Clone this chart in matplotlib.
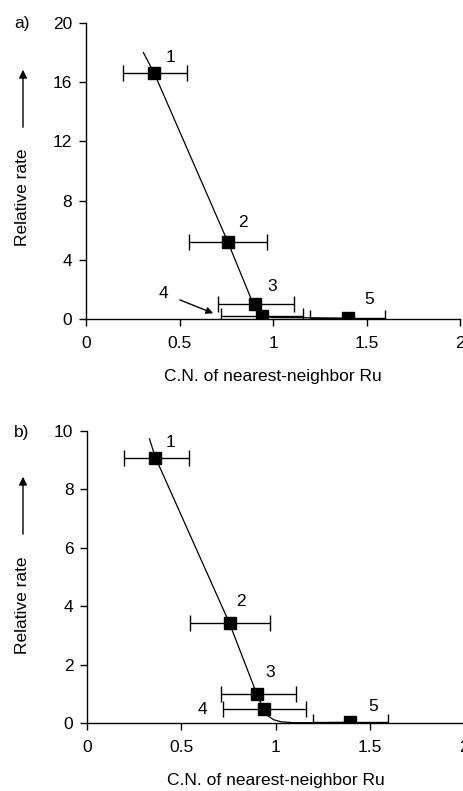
import numpy as np
from matplotlib import pyplot as plt

plt.rcParams['font.family'] = ['Liberation Sans', 'DejaVu Sans']
plt.rcParams['font.size'] = 12

# panel a) data
cn_a = [0.365, 0.758, 0.904, 0.94, 1.40]
rate_a = [16.6, 5.22, 1.01, 0.2, 0.05]
err_lo_a = [0.20, 0.55, 0.704, 0.72, 1.20]
err_hi_a = [0.54, 0.97, 1.11, 1.16, 1.60]
curve_x_a = [0.307, 0.365, 0.758, 0.885, 0.94, 1.0, 1.2, 1.4]
curve_y_a = [18.0, 16.6, 5.22, 1.3, 0.2, 0.1, 0.08, 0.05]

# panel b) data
cn_b = [0.362, 0.755, 0.90, 0.936, 1.393]
rate_b = [9.09, 3.42, 1.0, 0.48, 0.04]
err_lo_b = [0.197, 0.543, 0.711, 0.72, 1.197]
err_hi_b = [0.54, 0.968, 1.108, 1.162, 1.596]
curve_x_b = [0.33, 0.362, 0.755, 0.90, 0.936, 0.96, 0.99, 1.03, 1.1, 1.2, 1.393]
curve_y_b = [9.73, 9.09, 3.42, 1.0, 0.48, 0.25, 0.12, 0.05, 0.02, 0.02, 0.03]

labels = ['1', '2', '3', '4', '5']
xticks = [0, 0.5, 1, 1.5, 2]
xticklabels = ['0', '0.5', '1', '1.5', '2']
yticks_a = [0, 4, 8, 12, 16, 20]
yticks_b = [0, 2, 4, 6, 8, 10]

W, H = 463, 791
FS = 12.5
fig = plt.figure(figsize=(W / 100, H / 100), dpi=100)


def fx(px):
    return px / W


def fy(py):
    return 1 - py / H


ax_a = fig.add_axes([fx(86), fy(319), fx(460 - 86), (319 - 23) / H])
ax_b = fig.add_axes([fx(87.3), fy(723.3), fx(464 - 87.3), (723.3 - 431) / H])


def draw(ax, cn, rate, lo, hi, cx, cy, yticks, offsets, skip4):
    ax.plot(cx, cy, color='black', lw=0.9, zorder=2)
    xerr = [np.array(cn) - np.array(lo), np.array(hi) - np.array(cn)]
    ax.errorbar(cn, rate, xerr=xerr, fmt='s', color='black', ms=9,
                ecolor='black', elinewidth=1.0, capsize=5.5, capthick=1.0, zorder=3)
    for i, lab in enumerate(labels):
        if skip4 and i == 3:
            continue
        ax.annotate(lab, (cn[i], rate[i]), xytext=offsets[i], textcoords='offset points',
                    ha='center', va='center', fontsize=FS)
    ax.set_xlim(0, 2)
    ax.set_ylim(0, yticks[-1])
    ax.set_xticks(xticks)
    ax.set_xticklabels(xticklabels)
    ax.set_yticks(yticks)
    ax.spines['top'].set_visible(False)
    ax.spines['right'].set_visible(False)
    ax.spines['left'].set_linewidth(1.0)
    ax.spines['bottom'].set_linewidth(1.0)
    ax.tick_params(direction='out', length=5, width=1.0, labelsize=FS)
    ax.tick_params(axis='x', pad=7)
    ax.tick_params(axis='y', pad=5)
    ax.set_xlabel('C.N. of nearest-neighbor Ru', fontsize=FS, labelpad=13)
    for sp in ax.spines.values():
        sp.set_clip_on(False)


offs_a = [(12, 11.5), (11, 14), (12.5, 12.5), (0, 0), (15.5, 13.5)]
offs_b = [(11, 11), (8, 15.5), (9.5, 15.3), (-44, 0), (17, 11.5)]

draw(ax_a, cn_a, rate_a, err_lo_a, err_hi_a, curve_x_a, curve_y_a, yticks_a, offs_a, True)
draw(ax_b, cn_b, rate_b, err_lo_b, err_hi_b, curve_x_b, curve_y_b, yticks_b, offs_b, False)

# label 4 with arrow in panel a
ax_a.annotate('4', xy=(0.68, 0.39), xytext=(0.413, 1.74), fontsize=FS,
              ha='center', va='center',
              arrowprops=dict(arrowstyle='-|>', color='black', lw=1.0,
                              shrinkA=7, shrinkB=0, mutation_scale=10))

# panel letters
fig.text(fx(21.7), fy(23.3), 'a)', fontsize=FS, ha='center', va='center')
fig.text(fx(21.7), fy(432), 'b)', fontsize=FS, ha='center', va='center')

# y labels with up-arrows
for lab_c, a_top, a_bot in [(197.5, 67, 130), (605.5, 474, 537)]:
    fig.text(fx(23), fy(lab_c), 'Relative rate', rotation=90, fontsize=FS,
             ha='center', va='center')
    fig.patches.append(plt.matplotlib.patches.FancyArrowPatch(
        (fx(23), fy(a_bot)), (fx(23), fy(a_top)), transform=fig.transFigure,
        arrowstyle='-|>', mutation_scale=12, color='black', lw=1.0))

fig.savefig('out.png', dpi=100)
